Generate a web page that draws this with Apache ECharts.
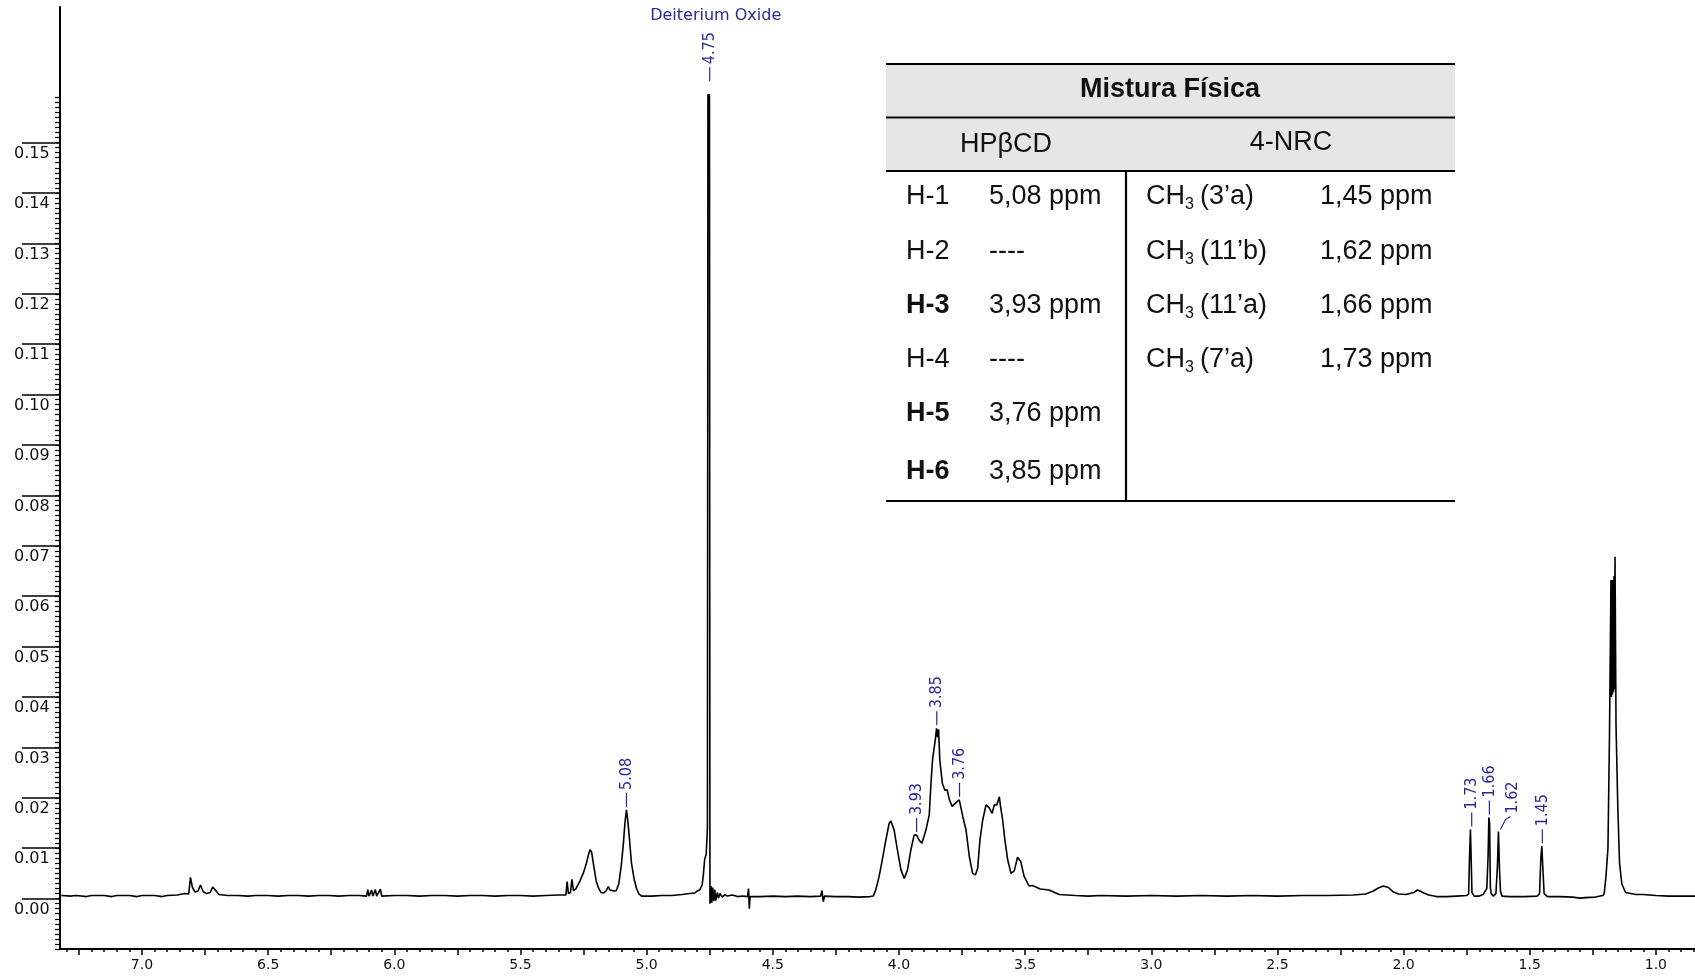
<!DOCTYPE html>
<html><head><meta charset="utf-8">
<script src="https://cdn.jsdelivr.net/npm/echarts@6/dist/echarts.min.js"></script>
<style>html,body{margin:0;padding:0;background:#fff}#c{width:1695px;height:977px}</style>
</head><body><div id="c"></div>
<script>
// ---- spectrum (chemical shift, ppm) ----
const ppm = [
7.32,7.28,7.26,7.22,7.20,7.15,7.12,7.10,7.05,7.02,7.00,6.95,6.92,6.90,6.86,6.83,6.815,6.808,6.800,6.790,6.778,6.768,6.758,6.745,6.730,6.720,6.708,6.695,
6.66,6.62,6.58,6.55,6.50,6.46,6.42,6.38,6.34,6.30,6.26,6.22,6.18,6.14,6.11,6.105,6.100,6.090,6.085,6.075,6.070,6.055,6.050,
6.00,5.95,5.90,5.85,5.80,5.75,5.70,5.65,5.60,5.55,5.50,5.45,5.40,5.35,5.32,5.315,5.310,5.302,5.296,5.290,5.280,5.265,5.250,5.240,5.230,5.224,5.218,5.210,5.200,5.190,5.180,5.170,5.160,5.152,5.145,5.130,5.120,5.110,5.100,5.092,5.086,5.080,5.075,5.070,5.065,5.060,5.050,5.040,5.030,5.020,
4.98,4.94,4.90,4.86,4.83,4.81,4.80,4.79,4.78,4.775,4.770,4.764,4.759,4.757,4.754,4.751,4.749,4.745,4.742,4.738,4.734,4.730,4.726,4.720,4.715,4.710,4.700,4.690,4.680,4.660,4.640,4.620,4.600,4.596,4.593,4.590,
4.55,4.50,4.45,4.40,4.35,4.31,4.305,4.300,4.295,4.25,4.20,4.16,
4.115,4.102,4.092,4.079,4.066,4.052,4.039,4.032,4.019,4.006,3.992,3.979,3.966,3.953,3.940,3.930,3.920,3.909,3.893,3.880,3.873,3.867,3.856,3.851,3.847,3.843,3.838,3.828,3.818,3.809,3.800,3.789,3.775,3.761,3.747,3.734,3.721,3.708,3.697,3.688,3.679,3.668,3.655,3.642,3.631,3.622,3.612,3.602,3.598,3.589,3.580,3.569,3.556,3.543,3.530,3.517,3.504,3.484,3.471,3.44,3.405,3.365,
3.30,3.25,3.20,3.10,3.00,2.90,2.80,2.70,2.60,2.50,2.40,2.30,2.20,2.15,2.12,2.10,2.08,2.06,2.04,2.02,1.99,1.96,1.945,1.935,1.92,1.90,1.87,1.83,1.79,1.75,
1.742,1.739,1.735,1.732,1.729,1.72,1.70,1.685,1.670,1.665,1.662,1.659,1.656,1.653,1.645,1.634,1.628,1.624,1.620,1.616,1.610,1.58,1.52,1.47,1.461,1.456,1.452,1.448,1.443,1.43,1.38,1.33,1.30,1.28,1.24,1.21,1.205,
1.198,1.190,1.184,1.178,1.176,1.174,1.172,1.170,1.168,1.166,1.164,1.162,1.158,1.151,1.144,1.135,1.12,1.08,1.05,1.00,0.95,0.90,0.845
];
const intensity = [
0.0006,0.0005,0.0006,0.0004,0.0006,0.0006,0.0004,0.0006,0.0006,0.0004,0.0006,0.0006,0.0004,0.0006,0.0007,0.0010,0.0009,0.0042,0.0022,0.0013,0.0015,0.0027,0.0014,0.0010,0.0012,0.0023,0.0016,0.0008,
0.0006,0.0006,0.0005,0.0006,0.0006,0.0005,0.0006,0.0006,0.0005,0.0006,0.0006,0.0005,0.0006,0.0006,0.0005,0.0018,0.0005,0.0017,0.0005,0.0018,0.0005,0.0019,0.0005,
0.0006,0.0006,0.0005,0.0006,0.0006,0.0005,0.0006,0.0006,0.0005,0.0006,0.0006,0.0005,0.0006,0.0007,0.0007,0.0034,0.0010,0.0012,0.0038,0.0016,0.0020,0.0034,0.0052,0.0068,0.0088,0.0097,0.0092,0.0066,0.0035,0.0020,0.0012,0.0011,0.0016,0.0024,0.0017,0.0015,0.0016,0.0030,0.0068,0.0110,0.0150,0.0176,0.0156,0.0130,0.0100,0.0070,0.0040,0.0020,0.0009,0.0005,
0.0005,0.0006,0.0006,0.0008,0.0010,0.0011,0.0015,0.0017,0.0027,0.0048,0.0078,0.0088,0.0140,0.1596,0.1580,0.1596,-0.0010,0.0025,-0.0008,0.0022,-0.0005,0.0018,-0.0004,0.0012,0.0001,0.0010,0.0003,0.0008,0.0005,0.0007,0.0004,0.0005,0.0004,0.0020,-0.0020,0.0004,
0.0004,0.0005,0.0004,0.0005,0.0004,0.0005,0.0016,-0.0006,0.0005,0.0004,0.0004,0.0003,
0.0004,0.0005,0.0017,0.0043,0.0077,0.0116,0.0149,0.0154,0.0136,0.0096,0.0057,0.0040,0.0057,0.0096,0.0126,0.0126,0.0116,0.0110,0.0136,0.0166,0.0229,0.0275,0.0315,0.0338,0.0320,0.0336,0.0275,0.0229,0.0215,0.0216,0.0196,0.0183,0.0190,0.0196,0.0163,0.0136,0.0083,0.0050,0.0047,0.0060,0.0116,0.0156,0.0186,0.0180,0.0169,0.0186,0.0186,0.0202,0.0185,0.0156,0.0116,0.0077,0.0050,0.0055,0.0082,0.0073,0.0044,0.0025,0.0026,0.0019,0.0017,0.0008,
0.0006,0.0005,0.0006,0.0005,0.0006,0.0005,0.0006,0.0005,0.0006,0.0005,0.0006,0.0006,0.0007,0.0009,0.0015,0.0021,0.0025,0.0022,0.0013,0.0009,0.0008,0.0012,0.0017,0.0015,0.0011,0.0007,0.0004,0.0004,0.0005,0.0006,
0.0010,0.0077,0.0137,0.0077,0.0012,0.0005,0.0005,0.0008,0.0020,0.0085,0.0161,0.0150,0.0022,0.0010,0.0005,0.0010,0.0065,0.0133,0.0060,0.0015,0.0005,0.0004,0.0004,0.0005,0.0010,0.0080,0.0104,0.0060,0.0010,0.0004,0.0004,0.0003,0.0001,0.0002,0.0003,0.0006,0.0010,
0.0043,0.0100,0.0321,0.0632,0.0400,0.0632,0.0405,0.0632,0.0410,0.0640,0.0415,0.0678,0.0344,0.0182,0.0070,0.0029,0.0012,0.0008,0.0008,0.0006,0.0005,0.0005,0.0005
];
// ---- axis tick labels ----
const xTickLabels = [7.0,6.5,6.0,5.5,5.0,4.5,4.0,3.5,3.0,2.5,2.0,1.5,1.0];
const yTickLabels = [0.00,0.01,0.02,0.03,0.04,0.05,0.06,0.07,0.08,0.09,0.10,0.11,0.12,0.13,0.14,0.15];
// ---- peak annotations ----
const peakPpm  = [4.75, 5.08, 3.93, 3.85, 3.76, 1.73, 1.66, 1.62, 1.45];
const peakTop  = [0.1596, 0.0176, 0.0126, 0.0338, 0.0196, 0.0137, 0.0161, 0.0133, 0.0104];
const peakText = ['4.75','5.08','3.93','3.85','3.76','1.73','1.66','1.62','1.45'];
const solventLabel = 'Deiterium Oxide';
// ---- table ----
const tableTitle = 'Mistura Física';
const colHeads = ['HPβCD', '4-NRC'];
const hpH = ['H-1','H-2','H-3','H-4','H-5','H-6'];
const hpShift = ['5,08 ppm','----','3,93 ppm','----','3,76 ppm','3,85 ppm'];
const hpBold = [false,false,true,false,true,true];
const nrcGroup = ['(3’a)','(11’b)','(11’a)','(7’a)'];
const nrcShift = ['1,45 ppm','1,62 ppm','1,66 ppm','1,73 ppm'];

const chart = echarts.init(document.getElementById('c'), null, {renderer:'canvas'});
const X_MIN = 0.845, X_MAX = 7.325, Y_MIN = -0.01, Y_MAX = 0.1769;
const quarterTicks = []; for (let k = 4; k <= 29; k++) quarterTicks.push(k * 0.25);
const fineXTicks = []; for (let k = 17; k <= 146; k++) fineXTicks.push(+(k * 0.05).toFixed(2));
const fineYTicks = []; for (let k = -10; k <= 159; k++) fineYTicks.push(k / 1000);
const AX = '#000';
const labelFont = 'DejaVu Sans';

chart.setOption({
  animation: false,
  backgroundColor: '#ffffff',
  grid: {left: 60, right: 0, top: 7, bottom: 28},
  xAxis: [
    {type:'value', min:X_MIN, max:X_MAX, inverse:true, position:'bottom',
     axisLine:{show:true, onZero:false, lineStyle:{color:AX, width:2}},
     axisTick:{show:true, customValues:quarterTicks, length:6, lineStyle:{color:AX, width:1.5}},
     axisLabel:{show:true, customValues:xTickLabels, formatter:v=>Number(v).toFixed(1), fontFamily:labelFont, fontSize:14, color:'#111', margin:9},
     splitLine:{show:false}},
    {type:'value', min:X_MIN, max:X_MAX, inverse:true, position:'bottom',
     axisLine:{show:false, onZero:false},
     axisTick:{show:true, customValues:fineXTicks, length:3, lineStyle:{color:AX, width:1.5}},
     axisLabel:{show:false}, splitLine:{show:false}}
  ],
  yAxis: [
    {type:'value', min:Y_MIN, max:Y_MAX, position:'left',
     axisLine:{show:true, onZero:false, lineStyle:{color:AX, width:2}},
     axisTick:{show:true, customValues:yTickLabels, length:38, lineStyle:{color:AX, width:1.5}},
     axisLabel:{show:true, customValues:yTickLabels, formatter:v=>Number(v).toFixed(2), align:'left', verticalAlign:'top', margin:46, padding:[3,0,0,0], fontFamily:labelFont, fontSize:16, color:'#111'},
     splitLine:{show:false}},
    {type:'value', min:Y_MIN, max:Y_MAX, position:'left',
     axisLine:{show:false, onZero:false},
     axisTick:{show:true, customValues:fineYTicks, length:5, lineStyle:{color:AX, width:1.2}},
     axisLabel:{show:false}, splitLine:{show:false}}
  ],
  series: [{
    type:'line', xAxisIndex:0, yAxisIndex:0, silent:true,
    data: ppm.map((p, i) => [p, intensity[i]]),
    showSymbol:false, symbol:'none',
    lineStyle:{color:'#000', width:1.6}, z:3
  }]
});

// ---- annotations and table (graphic) ----
const BLUE = '#28289a';
const pkFont = '16px "Liberation Sans Narrow", "DejaVu Sans Condensed", sans-serif';
const g = [];
peakPpm.forEach((p, i) => {
  const [px, py] = chart.convertToPixel({xAxisIndex:0, yAxisIndex:0}, [p, peakTop[i]]);
  if (peakText[i] === '1.62') {
    g.push({type:'polyline', shape:{points:[[px+1, py-2],[px+6, py-12],[px+11, py-15]]}, style:{stroke:BLUE, lineWidth:1.2, fill:null}, z:10});
    g.push({type:'text', x:px+13, y:py-18, rotation:Math.PI/2, style:{text:peakText[i], font:pkFont, fill:BLUE, align:'left', verticalAlign:'middle'}, z:10});
    return;
  }
  const gap = peakText[i] === '4.75' ? 13 : 3;
  const y0 = py - gap, y1 = y0 - 14;
  g.push({type:'line', shape:{x1:px, y1:y0, x2:px, y2:y1}, style:{stroke:BLUE, lineWidth:1.2}, z:10});
  g.push({type:'text', x:px, y:y1-3, rotation:Math.PI/2, style:{text:peakText[i], font:pkFont, fill:BLUE, align:'left', verticalAlign:'middle'}, z:10});
  if (peakText[i] === '4.75') {
    g.push({type:'text', x:px+6, y:16, style:{text:solventLabel, font:'16px "DejaVu Sans", sans-serif', fill:BLUE, align:'center', verticalAlign:'middle'}, z:10});
  }
});

const TL = 886, TR = 1455, TDIV = 1126;
const tFont = '"Liberation Sans", Arial, sans-serif';
g.push({type:'rect', shape:{x:TL, y:64, width:TR-TL, height:107}, style:{fill:'#e6e6e6'}, z:5});
[64, 117.5, 171, 501].forEach(y => g.push({type:'line', shape:{x1:TL, y1:y, x2:TR, y2:y}, style:{stroke:'#000', lineWidth:2.2}, z:6}));
g.push({type:'line', shape:{x1:TDIV, y1:171, x2:TDIV, y2:501}, style:{stroke:'#000', lineWidth:2.2}, z:6});
g.push({type:'text', x:1170, y:90, style:{text:tableTitle, font:'bold 27px ' + tFont, fill:'#111', align:'center', verticalAlign:'middle'}, z:7});
g.push({type:'text', x:1006, y:145, style:{text:colHeads[0], font:'27px ' + tFont, fill:'#111', align:'center', verticalAlign:'middle'}, z:7});
g.push({type:'text', x:1291, y:143, style:{text:colHeads[1], font:'27px ' + tFont, fill:'#111', align:'center', verticalAlign:'middle'}, z:7});
const rowY = [197, 252, 306, 360, 414, 472];
hpH.forEach((h, i) => {
  g.push({type:'text', x:906, y:rowY[i], style:{text:h, font:(hpBold[i] ? 'bold ' : '') + '27px ' + tFont, fill:'#111', align:'left', verticalAlign:'middle'}, z:7});
  g.push({type:'text', x:989, y:rowY[i], style:{text:hpShift[i], font:'27px ' + tFont, fill:'#111', align:'left', verticalAlign:'middle'}, z:7});
});
nrcGroup.forEach((grp, i) => {
  g.push({type:'text', x:1146, y:rowY[i], style:{text:'CH', font:'27px ' + tFont, fill:'#111', align:'left', verticalAlign:'middle'}, z:7});
  g.push({type:'text', x:1185, y:rowY[i]+8, style:{text:'3', font:'16px ' + tFont, fill:'#111', align:'left', verticalAlign:'middle'}, z:7});
  g.push({type:'text', x:1200, y:rowY[i], style:{text:grp, font:'27px ' + tFont, fill:'#111', align:'left', verticalAlign:'middle'}, z:7});
  g.push({type:'text', x:1320, y:rowY[i], style:{text:nrcShift[i], font:'27px ' + tFont, fill:'#111', align:'left', verticalAlign:'middle'}, z:7});
});
chart.setOption({graphic: g});
</script></body></html>
